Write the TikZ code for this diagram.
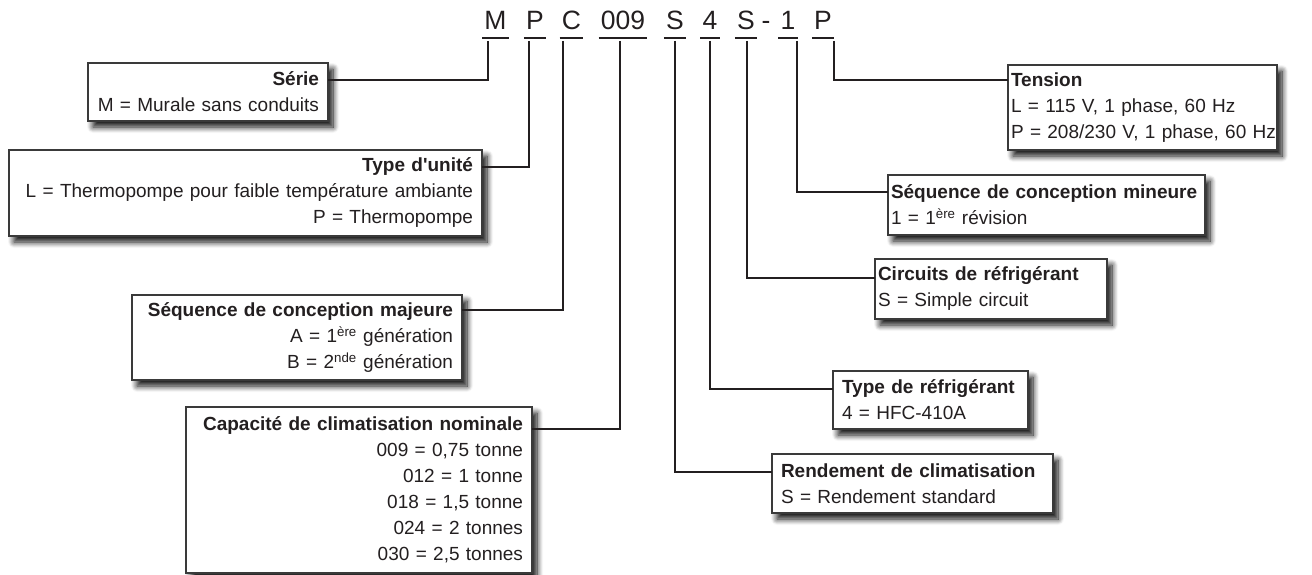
\documentclass[tikz,border=0pt]{standalone}
\usepackage{fontspec}
\newfontfamily\lsans{Liberation Sans}
\usetikzlibrary{shadows.blur}
\definecolor{ink}{HTML}{231F20}
\definecolor{boxc}{HTML}{3A3A3A}
\begin{document}
\begin{tikzpicture}[x=1pt,y=-1pt,
  every node/.style={font=\lsans\fontsize{19}{26}\selectfont, text=ink},
  code/.style={anchor=base, inner xsep=2pt, inner ysep=0pt, font=\lsans\fontsize{26.5}{30}\selectfont},
  uline/.style={draw=ink, line width=1.8pt},
  conn/.style={draw=ink, line width=2pt},
  box/.style={draw=boxc, line width=1.1pt, fill=white, outer sep=0pt, inner ysep=2pt,
    blur shadow={shadow xshift=5pt, shadow yshift=-6pt, shadow blur radius=6pt, shadow blur steps=10, shadow opacity=95}},
  lbox/.style={box, anchor=north west, align=right, inner xsep=9pt},
  rbox/.style={box, anchor=north west, align=left},
]
\useasboundingbox (0,0) rectangle (1312,575);

% code letters
\node[code] (cM) at (495.5,30) {M};
\node[code] (cP) at (535,30) {P};
\node[code] (cC) at (571.5,30) {C};
\node[code] (c009) at (623,30) {009};
\node[code] (cS) at (675,30) {S};
\node[code] (c4) at (710,30) {4};
\node[code] (cSb) at (746,30) {S};
\node[code] (cdash) at (766,30) {-};
\node[code] (c1) at (788,30) {1};
\node[code] (cPb) at (823,30) {P};
\foreach \n in {cM,cP,cC,c009,cS,c4,cSb,c1,cPb}
  \draw[uline] ([yshift=-8pt]\n.base west) -- ([yshift=-8pt]\n.base east);

% left boxes
\node[lbox, text width=222pt, minimum height=58pt] (serie) at (88,63)
  {\textbf{Série}\\M = Murale sans conduits};
\node[lbox, text width=455pt, minimum height=86pt] (unite) at (9,150)
  {\textbf{Type d'unité}\\L = Thermopompe pour faible température ambiante\\P = Thermopompe};
\node[lbox, text width=312pt, minimum height=85pt] (seqmaj) at (132,295)
  {\textbf{Séquence de conception majeure}\\A = 1\textsuperscript{ère} génération\\B = 2\textsuperscript{nde} génération};
\node[lbox, text width=328pt, minimum height=166pt] (capa) at (186,407)
  {\textbf{Capacité de climatisation nominale}\\009 = 0,75 tonne\\012 = 1 tonne\\018 = 1,5 tonne\\024 = 2 tonnes\\030 = 2,5 tonnes};

% right boxes
\node[rbox, inner xsep=3pt, text width=263pt, minimum height=85pt] (tension) at (1008,65)
  {\textbf{Tension}\\L = 115 V, 1 phase, 60 Hz\\\mbox{P = 208/230 V, 1 phase, 60 Hz}};
\node[rbox, inner xsep=3pt, text width=311pt, minimum height=60pt] (seqmin) at (888,175)
  {\textbf{Séquence de conception mineure}\\1 = 1\textsuperscript{ère} révision};
\node[rbox, inner xsep=3pt, text width=226pt, minimum height=60pt] (circ) at (875,259)
  {\textbf{Circuits de réfrigérant}\\S = Simple circuit};
\node[rbox, inner xsep=9pt, text width=177pt, minimum height=58pt] (refr) at (833,371)
  {\textbf{Type de réfrigérant}\\4 = HFC-410A};
\node[rbox, inner xsep=9pt, text width=263pt, minimum height=59pt] (rend) at (772,454)
  {\textbf{Rendement de climatisation}\\S = Rendement standard};

% connectors
\draw[conn] ([xshift=-7.5pt,yshift=-11pt]cM.base) |- ([yshift=-17pt]serie.north east);
\draw[conn] ([xshift=-6pt,yshift=-11pt]cP.base) |- ([yshift=-17pt]unite.north east);
\draw[conn] ([xshift=-8.5pt,yshift=-11pt]cC.base) |- ([yshift=-15pt]seqmaj.north east);
\draw[conn] ([xshift=-3pt,yshift=-11pt]c009.base) |- ([yshift=-22pt]capa.north east);
\draw[conn] ([yshift=-11pt]cS.base) |- ([yshift=-18pt]rend.north west);
\draw[conn] ([yshift=-11pt]c4.base) |- ([yshift=-18pt]refr.north west);
\draw[conn] ([xshift=1pt,yshift=-11pt]cSb.base) |- ([yshift=-19pt]circ.north west);
\draw[conn] ([xshift=9pt,yshift=-11pt]c1.base) |- ([yshift=-17pt]seqmin.north west);
\draw[conn] ([xshift=11pt,yshift=-11pt]cPb.base) |- ([yshift=-15pt]tension.north west);
\end{tikzpicture}
\end{document}
